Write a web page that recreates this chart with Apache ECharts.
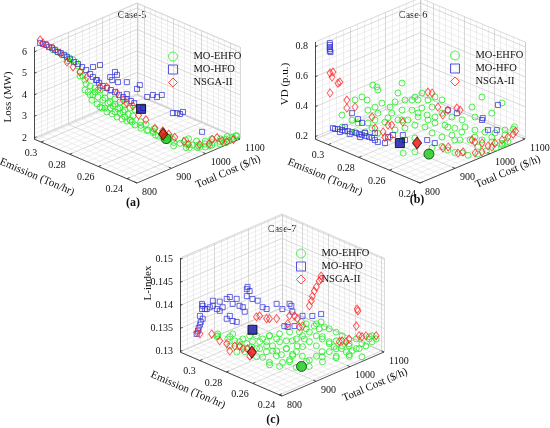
<!DOCTYPE html>
<html>
<head>
<meta charset="utf-8">
<script src="https://cdn.jsdelivr.net/npm/echarts@6/dist/echarts.min.js"></script>
<style>
  html, body { margin: 0; padding: 0; background: #fff; }
  #main { width: 550px; height: 428px; }
</style>
</head>
<body>
<div id="main"></div>
<script>
// tick labels
const costTicks = [800, 900, 1000, 1100];
const emissionTicks = [0.24, 0.26, 0.28, 0.3];
const lossTicks = [2, 3, 4, 5, 6];
const vdTicks = [0.2, 0.4, 0.6, 0.8];
const lIndexTicks = [0.13, 0.135, 0.14, 0.145, 0.15];
const algorithms = ['MO-EHFO', 'MO-HFO', 'NSGA-II'];

// every point: [total cost ($/h), emission (ton/hr), objective]
// Case-5, objective = loss (MW)
const case5Ehfo = [
  [828,0.2984,6.09],[834,0.2970,6.00],[841,0.2952,5.86],[847,0.2938,5.81],[852,0.2924,5.72],[857,0.2914,5.63],[850,0.2931,5.58],[861,0.2903,5.53],
  [864,0.2896,5.35],[867,0.2889,5.07],[871,0.2879,4.88],
  [876,0.2868,4.51],[882,0.2854,4.42],[889,0.2837,4.32],[896,0.2819,4.23],[903,0.2802,4.09],[911,0.2784,3.95],[918,0.2767,3.81],[925,0.2749,3.67],[932,0.2732,3.53],[940,0.2714,3.39],[947,0.2697,3.30],
  [879,0.2861,4.14],[886,0.2844,4.00],[893,0.2826,3.90],[900,0.2809,3.76],[908,0.2791,3.62],[915,0.2774,3.49],[922,0.2756,3.35],[930,0.2739,3.21],[937,0.2721,3.11],[944,0.2704,3.02],
  [884,0.2847,3.76],[892,0.2830,3.58],[899,0.2812,3.39],[906,0.2795,3.21],[914,0.2777,3.11],[921,0.2760,2.97],[928,0.2742,2.88],[935,0.2725,2.79],[943,0.2707,2.74],
  [896,0.2819,3.44],[911,0.2784,3.39],[925,0.2749,3.16],[889,0.2837,4.14],[903,0.2802,3.86],[918,0.2767,3.58],[932,0.2732,3.30],[874,0.2872,4.23],
  [882,0.2854,4.00],[903,0.2802,3.39],[918,0.2767,3.21],[932,0.2732,2.97],[940,0.2714,2.83],[893,0.2826,4.23],[911,0.2784,3.67],[925,0.2749,3.39],[874,0.2872,4.69],[867,0.2889,4.88],
  [940,0.2680,2.70],[945,0.2650,2.60],[950,0.2620,2.55],[955,0.2590,2.50],[948,0.2660,2.85],[955,0.2640,2.75],[962,0.2600,2.60],[970,0.2560,2.45],[935,0.2700,2.90],[958,0.2560,2.40],[965,0.2530,2.35],
  [960,0.2500,2.35],[970,0.2480,2.25],[980,0.2460,2.20],[990,0.2440,2.15],[1000,0.2420,2.10],[1010,0.2410,2.05],[1025,0.2395,2.05],[1040,0.2380,2.05],[1055,0.2365,2.05],[1070,0.2355,2.08],[1085,0.2345,2.10],[1095,0.2340,2.10],
  [965,0.2470,2.15],[985,0.2430,2.05],[1005,0.2400,2.00],[1020,0.2380,1.98],[1035,0.2370,2.00],[1050,0.2350,2.00],[1065,0.2340,2.02],[1080,0.2335,2.05],[1090,0.2337,2.15],[1045,0.2395,2.15],[1000,0.2450,2.30],
  [975,0.2500,2.30],[995,0.2460,2.25],[1015,0.2430,2.15],[1030,0.2405,2.12],[1060,0.2370,2.12],[1075,0.2360,2.15],[990,0.2420,2.05],[1010,0.2395,2.00],[1030,0.2375,1.98],[1060,0.2350,2.00],
  [1075,0.2345,2.00],[950,0.2560,2.50],[960,0.2540,2.45],[945,0.2600,2.65],[952,0.2580,2.60],[975,0.2520,2.35],[940,0.2640,2.80]
];
const case5Hfo = [
  [809,0.3029,6.42],[813,0.3019,6.37],[818,0.3008,6.32],[822,0.2998,6.23],[826,0.2987,6.18],[831,0.2977,6.09],[835,0.2966,6.00],[839,0.2956,5.95],[844,0.2945,5.86],[848,0.2935,5.76],
  [852,0.2924,5.67],[858,0.2910,5.53],[864,0.2896,5.44],[870,0.2882,5.30],[876,0.2868,5.16],[882,0.2854,4.97],[886,0.2844,4.83],[890,0.2833,4.69],[895,0.2823,4.56],[900,0.2809,4.42],
  [906,0.2795,4.32],[912,0.2781,4.23],[918,0.2767,4.14],[924,0.2753,4.00],[930,0.2739,3.90],[935,0.2725,3.81],[941,0.2711,3.72],[946,0.2700,3.62],
  [896,0.2819,5.39],[886,0.2844,5.30],[918,0.2767,5.07],[921,0.2760,4.93],[911,0.2784,4.83],[914,0.2777,4.69],[935,0.2725,4.60],[922,0.2756,4.60],[892,0.2830,4.69],[954,0.2680,4.46],
  [950,0.2690,4.28],[965,0.2655,3.90],[973,0.2634,4.00],[979,0.2620,3.90],[986,0.2603,4.00],[959,0.2669,3.39],[1002,0.2564,3.16],[1008,0.2550,3.16],[1013,0.2540,3.11],[1017,0.2529,3.21],
  [1045,0.2463,2.28],[935,0.2725,4.04]
];
const case5Nsga = [
  [809,0.3029,6.56],[813,0.3019,6.42],[819,0.3005,6.32],[828,0.2984,6.18],[838,0.2959,5.95],[848,0.2935,5.53],[857,0.2914,5.30],[867,0.2889,5.07],[877,0.2865,4.83],[896,0.2819,4.37],
  [906,0.2795,4.37],[921,0.2760,4.09],[930,0.2739,3.76],[935,0.2725,3.62],[944,0.2704,3.49],
  [942,0.2660,3.20],[955,0.2640,2.95],[965,0.2600,2.60],[975,0.2570,2.50],[980,0.2540,2.40],[985,0.2510,2.30],[995,0.2470,2.15],[1000,0.2450,2.05],[1020,0.2420,1.98],[1035,0.2390,2.00],
  [1040,0.2380,2.20],[1050,0.2370,2.25],[1060,0.2360,2.05],[1070,0.2350,1.98],[1085,0.2340,2.00]
];
const case5Best = [[968,0.2530,2.30],[956,0.2676,3.35],[972,0.2560,2.40]];

// Case-6, objective = VD (p.u.)
const case6Ehfo = [
  [863,0.2853,0.583],[869,0.2840,0.570],[905,0.2758,0.596],[848,0.2889,0.503],[838,0.2912,0.483],[855,0.2872,0.483],[876,0.2823,0.463],[895,0.2781,0.470],[909,0.2748,0.483],[919,0.2725,0.483],
  [928,0.2706,0.483],[888,0.2797,0.436],[866,0.2846,0.436],[856,0.2869,0.416],[870,0.2836,0.396],[890,0.2791,0.396],[905,0.2758,0.416],[919,0.2725,0.416],[933,0.2692,0.430],[948,0.2660,0.436],
  [819,0.2954,0.383],[833,0.2921,0.350],[842,0.2902,0.330],[856,0.2869,0.330],[866,0.2846,0.350],[885,0.2804,0.363],[899,0.2771,0.350],[913,0.2738,0.350],[928,0.2706,0.370],[941,0.2676,0.383],
  [952,0.2650,0.370],[962,0.2627,0.396],[976,0.2594,0.370],[991,0.2562,0.350],[1009,0.2519,0.370],
  [819,0.2954,0.303],[838,0.2912,0.270],[852,0.2879,0.270],[862,0.2856,0.296],[870,0.2836,0.263],[895,0.2781,0.283],[909,0.2748,0.296],[923,0.2715,0.316],[938,0.2683,0.303],[952,0.2650,0.330],
  [966,0.2617,0.316],[980,0.2585,0.296],[995,0.2552,0.303],[1009,0.2519,0.283],[1023,0.2486,0.270],[1038,0.2454,0.263],[1052,0.2421,0.250],[1066,0.2400,0.283],[1070,0.2400,0.296],
  [905,0.2758,0.216],[923,0.2715,0.230],[948,0.2660,0.263],[962,0.2627,0.236],[976,0.2594,0.250],[988,0.2568,0.216],[1002,0.2535,0.216],[1019,0.2496,0.216],[1029,0.2454,0.212],[1040,0.2414,0.208],
  [1052,0.2402,0.214],[865,0.2659,0.210],[885,0.2628,0.212],[927,0.2612,0.206],[941,0.2579,0.214],[939,0.2536,0.210],[942,0.2497,0.208],[949,0.2466,0.212],[951,0.2431,0.209],[968,0.2406,0.211],
  [990,0.2400,0.213],[1017,0.2400,0.207],[1042,0.2400,0.212],
  [1005,0.2529,0.436],[1048,0.2431,0.463],[870,0.2836,0.550],[899,0.2771,0.530],[933,0.2692,0.530],[1019,0.2496,0.503],[1033,0.2464,0.396],
  [923,0.2715,0.503],[942,0.2673,0.483],[952,0.2650,0.503],[962,0.2627,0.483],[905,0.2758,0.350],[880,0.2813,0.336],[928,0.2706,0.396],[942,0.2673,0.350],
  [970,0.2607,0.303],[990,0.2562,0.270],[1009,0.2519,0.236],[1033,0.2464,0.236],[1052,0.2421,0.283],[980,0.2585,0.216],[992,0.2461,0.211],[1035,0.2400,0.209]
];
const case6Hfo = [
  [821,0.3038,0.825],[821,0.3038,0.812],[821,0.3038,0.799],[821,0.3038,0.785],[821,0.3038,0.772],[822,0.3036,0.765],
  [806,0.2983,0.296],[809,0.2977,0.290],[813,0.2967,0.290],[819,0.2954,0.283],[823,0.2944,0.276],[828,0.2934,0.276],[833,0.2921,0.270],[839,0.2908,0.263],[843,0.2898,0.256],[848,0.2889,0.250],
  [853,0.2876,0.243],[858,0.2866,0.236],[862,0.2856,0.230],[866,0.2846,0.216],[866,0.2827,0.211],[873,0.2796,0.211],[816,0.2961,0.270],[830,0.2928,0.256],[845,0.2895,0.236],[823,0.2944,0.303],
  [833,0.2921,0.396],[842,0.2902,0.356],[848,0.2889,0.330],[852,0.2879,0.263],[866,0.2846,0.263],[885,0.2804,0.236],[892,0.2787,0.250],[906,0.2755,0.250],[909,0.2748,0.216],[941,0.2676,0.216],
  [944,0.2633,0.211],[970,0.2607,0.416],[983,0.2578,0.396],[1019,0.2496,0.350],[1020,0.2493,0.363],[1028,0.2477,0.283],[1040,0.2447,0.283],[1042,0.2444,0.450]
];
const case6Nsga = [
  [802,0.2993,0.663],[806,0.2983,0.670],[805,0.2987,0.636],[816,0.2961,0.603],[813,0.2967,0.596],[802,0.2993,0.530],[826,0.2938,0.483],[826,0.2938,0.430],[838,0.2912,0.436],[862,0.2856,0.370],
  [866,0.2846,0.296],[885,0.2804,0.316],[890,0.2791,0.316],[906,0.2755,0.336],[878,0.2820,0.270],[880,0.2813,0.236],[888,0.2797,0.236],[942,0.2673,0.536],[948,0.2660,0.530],[956,0.2640,0.436],
  [963,0.2624,0.383],[970,0.2607,0.416],[983,0.2578,0.430],[988,0.2568,0.416],[1005,0.2529,0.216],[1005,0.2510,0.211],[1012,0.2479,0.211],[1010,0.2436,0.211],[1030,0.2436,0.211],[1048,0.2431,0.216],
  [1056,0.2411,0.236],[1066,0.2400,0.250],[1073,0.2400,0.263],[939,0.2568,0.211],[950,0.2559,0.211],[943,0.2479,0.211],[954,0.2471,0.211],[968,0.2424,0.211],[981,0.2409,0.211],[1012,0.2415,0.211]
];
const case6Best = [[898,0.2566,0.211],[894,0.2747,0.211],[919,0.2692,0.211]];

// Case-7, objective = L-index
const case7Ehfo = [
  [848,0.2988,0.1343],[847,0.2992,0.1337],[866,0.2943,0.1337],[873,0.2924,0.1328],[880,0.2906,0.1326],[891,0.2879,0.1322],[899,0.2857,0.1326],[910,0.2831,0.1326],[920,0.2804,0.1326],[929,0.2782,0.1317],
  [939,0.2755,0.1326],[949,0.2729,0.1328],[964,0.2692,0.1332],[968,0.2680,0.1347],[978,0.2654,0.1354],[993,0.2616,0.1365],[1000,0.2598,0.1369],[1012,0.2568,0.1354],[1022,0.2541,0.1347],[1031,0.2519,0.1339],
  [1052,0.2466,0.1332],[1071,0.2417,0.1337],[1081,0.2391,0.1332],[983,0.2643,0.1326],[993,0.2616,0.1317],[1002,0.2594,0.1332],[1012,0.2568,0.1326],[1022,0.2541,0.1328],[1031,0.2519,0.1317],[1041,0.2492,0.1322],
  [973,0.2669,0.1315],[949,0.2729,0.1311],[891,0.2879,0.1311],[866,0.2943,0.1317],[924,0.2793,0.1339],[939,0.2755,0.1343],[954,0.2718,0.1347],[993,0.2616,0.1339],[958,0.2707,0.1328],[973,0.2669,0.1339],
  [1075,0.2406,0.1326],[1066,0.2429,0.1317],[1056,0.2455,0.1311],
  [874,0.2911,0.1305],[885,0.2880,0.1306],[889,0.2800,0.1304],[894,0.2768,0.1305],[890,0.2706,0.1303],[918,0.2725,0.1306],[906,0.2648,0.1305],[920,0.2631,0.1304],[942,0.2664,0.1306],[956,0.2627,0.1305],
  [956,0.2574,0.1303],[977,0.2574,0.1305],[999,0.2588,0.1306],[1013,0.2570,0.1304],[1022,0.2541,0.1311],[1035,0.2497,0.1305],[1047,0.2484,0.1306],[965,0.2694,0.1304],[936,0.2769,0.1305],[917,0.2798,0.1306],
  [905,0.2842,0.1311],[880,0.2679,0.1304],[888,0.2624,0.1305],[912,0.2560,0.1303],[931,0.2511,0.1305],[965,0.2498,0.1306],[1002,0.2490,0.1304],[1025,0.2450,0.1305],[1040,0.2392,0.1306],
  [848,0.2988,0.1339],[863,0.2951,0.1332],[870,0.2932,0.1343],[885,0.2894,0.1332],[895,0.2868,0.1339],[905,0.2842,0.1339],[914,0.2819,0.1332],[924,0.2793,0.1339],[935,0.2767,0.1332],[920,0.2804,0.1317],
  [910,0.2831,0.1311],[930,0.2784,0.1305],[932,0.2723,0.1304],[949,0.2729,0.1311],[949,0.2682,0.1305],[965,0.2688,0.1317],[975,0.2661,0.1332],[983,0.2643,0.1347],[990,0.2624,0.1360],[997,0.2605,0.1354],
  [1002,0.2594,0.1337],[1012,0.2568,0.1322],[1019,0.2549,0.1315],[1030,0.2522,0.1311],[1041,0.2492,0.1317],[1052,0.2466,0.1311],[1060,0.2444,0.1322],[1071,0.2417,0.1332],[1075,0.2406,0.1339],[971,0.2673,0.1369],
  [978,0.2654,0.1365],[1005,0.2586,0.1358],[927,0.2649,0.1304],[945,0.2567,0.1305],[982,0.2543,0.1306],[1006,0.2499,0.1305],[1032,0.2468,0.1304],[880,0.2906,0.1315],[898,0.2861,0.1315]
];
const case7Hfo = [
  [817,0.3067,0.1343],[819,0.3063,0.1350],[820,0.3060,0.1356],[822,0.3056,0.1363],[823,0.3052,0.1369],[826,0.3045,0.1376],[822,0.3056,0.1382],[825,0.3048,0.1397],[826,0.3045,0.1404],[829,0.3037,0.1397],
  [825,0.3048,0.1408],[832,0.3030,0.1397],[836,0.3018,0.1401],[841,0.3007,0.1404],[847,0.2992,0.1397],[851,0.2981,0.1393],[855,0.2969,0.1401],[861,0.2954,0.1419],[866,0.2943,0.1423],[870,0.2932,0.1408],
  [876,0.2917,0.1419],[880,0.2906,0.1404],[885,0.2894,0.1401],[888,0.2887,0.1391],[866,0.2943,0.1382],[861,0.2954,0.1376],[870,0.2932,0.1371],[876,0.2917,0.1369],[891,0.2879,0.1440],[892,0.2876,0.1445],
  [891,0.2879,0.1425],[895,0.2868,0.1436],[899,0.2857,0.1419],[907,0.2838,0.1415],[914,0.2819,0.1401],[920,0.2804,0.1397],[935,0.2767,0.1408],[943,0.2744,0.1397],[954,0.2718,0.1408],[956,0.2710,0.1404],
  [958,0.2707,0.1391],[973,0.2669,0.1382],[987,0.2631,0.1382],[1000,0.2598,0.1386],[946,0.2737,0.1360],[951,0.2725,0.1358],[961,0.2699,0.1360],[841,0.3007,0.1415],[851,0.2981,0.1413]
];
const case7Nsga = [
  [817,0.3067,0.1347],[822,0.3056,0.1343],[839,0.3011,0.1343],[851,0.2981,0.1328],[861,0.2954,0.1322],[867,0.2946,0.1305],[873,0.2924,0.1317],[880,0.2906,0.1317],[885,0.2894,0.1311],[892,0.2876,0.1311],
  [879,0.2826,0.1305],[905,0.2842,0.1380],[910,0.2831,0.1382],[920,0.2804,0.1376],[924,0.2793,0.1376],[935,0.2767,0.1376],[951,0.2725,0.1365],[954,0.2718,0.1382],[961,0.2699,0.1382],[965,0.2688,0.1376],
  [968,0.2680,0.1358],[973,0.2669,0.1360],[983,0.2643,0.1404],[986,0.2635,0.1415],[987,0.2631,0.1425],[990,0.2624,0.1436],[993,0.2616,0.1445],[997,0.2605,0.1458],[1000,0.2598,0.1462],[1000,0.2598,0.1469],
  [1053,0.2462,0.1397],[1054,0.2459,0.1393],[1052,0.2466,0.1360],[1056,0.2455,0.1339],[1060,0.2444,0.1337],[1066,0.2429,0.1339],[1081,0.2391,0.1339],[1027,0.2530,0.1326],[1031,0.2519,0.1328],[1037,0.2504,0.1326],
  [1041,0.2492,0.1332]
];
const case7Best = [[920,0.2541,0.1305],[899,0.2857,0.1352],[896,0.2854,0.1305]];

// ---- layout of the three boxes (screen geometry, not data) ----
const FONT = 'Liberation Serif';
const colors = { ehfo: '#22ee22', hfo: '#2e2ed8', nsga: '#ff2020' };

const panels = [
  {
    title: 'Case-5', tag: '(a)', zName: 'Loss (MW)', zTicks: lossTicks, zMinor: 0.2,
    data: [case5Ehfo, case5Hfo, case5Nsga], best: case5Best,
    F: [137, 183], L: [34, 139], R: [240, 139], H: 92,
    cost: [800, 1100], em: [0.233, 0.305], z: [1.95, 6.23],
    titlePos: [132, 15], tagPos: [133, 203], zNamePos: [8, 97], emNamePos: [37, 177], costNamePos: [228, 172],
    legend: { left: 168, top: 51 }
  },
  {
    title: 'Case-6', tag: '(b)', zName: 'VD (p.u.)', zTicks: vdTicks, zMinor: 0.04,
    data: [case6Ehfo, case6Hfo, case6Nsga], best: case6Best,
    F: [420, 183], L: [315, 139], R: [525, 139], H: 97,
    cost: [800, 1100], em: [0.24, 0.3087], z: [0.185, 0.832],
    titlePos: [413, 15], tagPos: [417, 200], zNamePos: [285, 84], emNamePos: [325, 177], costNamePos: [508, 172],
    legend: { left: 450, top: 50 }
  },
  {
    title: 'Case-7', tag: '(c)', zName: 'L-index', zTicks: lIndexTicks, zMinor: 0.001,
    data: [case7Ehfo, case7Hfo, case7Nsga], best: case7Best,
    F: [282, 396], L: [180, 352], R: [384, 352], H: 94,
    cost: [800, 1100], em: [0.238, 0.315], z: [0.1299, 0.1503],
    titlePos: [282, 229], tagPos: [273, 420], zNamePos: [148, 283], emNamePos: [188, 390], costNamePos: [375, 385],
    legend: { left: 296, top: 248 }
  }
];

function proj(p, c, e, z) {
  const u = (c - p.cost[0]) / (p.cost[1] - p.cost[0]);
  const v = (e - p.em[0]) / (p.em[1] - p.em[0]);
  const w = (z - p.z[0]) / (p.z[1] - p.z[0]);
  return [
    p.F[0] + u * (p.R[0] - p.F[0]) + v * (p.L[0] - p.F[0]),
    p.F[1] + u * (p.R[1] - p.F[1]) + v * (p.L[1] - p.F[1]) - w * p.H
  ];
}

// grid values inside [lo, hi] stepping from a major tick
function gridVals(lo, hi, ref, step) {
  const out = [];
  for (let k = Math.ceil((lo - ref) / step - 1e-6); ref + k * step <= hi + 1e-9; k++) out.push(+(ref + k * step).toFixed(6));
  return out;
}
function isMajor(v, ticks) { return ticks.some(t => Math.abs(t - v) < 1e-7); }

const series = [];
const graphics = [];
const legends = [];

function txt(x, y, text, o) {
  o = o || {};
  return {
    type: 'text', x: x, y: y, rotation: o.rot || 0, silent: true,
    style: {
      text: text, fill: '#111', fontFamily: FONT, fontSize: o.size || 10,
      fontWeight: o.bold ? 'bold' : 'normal',
      textAlign: o.align || 'center', textVerticalAlign: 'middle',
      align: o.align || 'center', verticalAlign: 'middle'
    }
  };
}

panels.forEach((p, pi) => {
  const [c0, c1] = p.cost, [e0, e1] = p.em, [z0, z1] = p.z;
  const minor = [], major = [], axes = [];
  const seg = (list, a, b) => list.push({ coords: [proj(p, a[0], a[1], a[2]), proj(p, b[0], b[1], b[2])] });

  const cVals = gridVals(c0, c1, 800, 20);
  const eVals = gridVals(e0, e1, 0.24, 0.004);
  const zVals = gridVals(z0, z1, p.zTicks[0], p.zMinor);

  cVals.forEach(c => {
    const L = isMajor(c, costTicks) ? major : minor;
    seg(L, [c, e0, z0], [c, e1, z0]);      // floor
    seg(L, [c, e1, z0], [c, e1, z1]);      // back-left wall
  });
  eVals.forEach(e => {
    const L = isMajor(e, emissionTicks) ? major : minor;
    seg(L, [c0, e, z0], [c1, e, z0]);      // floor
    seg(L, [c1, e, z0], [c1, e, z1]);      // back-right wall
  });
  zVals.forEach(z => {
    const L = isMajor(z, p.zTicks) ? major : minor;
    seg(L, [c0, e1, z], [c1, e1, z]);
    seg(L, [c1, e0, z], [c1, e1, z]);
  });
  // box outline of the back walls
  seg(major, [c0, e1, z1], [c1, e1, z1]);
  seg(major, [c1, e0, z1], [c1, e1, z1]);
  seg(major, [c1, e1, z0], [c1, e1, z1]);
  seg(major, [c1, e0, z0], [c1, e0, z1]);
  seg(major, [c1, e0, z0], [c1, e1, z0]);
  seg(major, [c0, e1, z0], [c1, e1, z0]);

  // dark axis lines + ticks
  seg(axes, [c0, e1, z0], [c0, e1, z1]);
  seg(axes, [c0, e0, z0], [c0, e1, z0]);
  seg(axes, [c0, e0, z0], [c1, e0, z0]);
  costTicks.forEach(c => seg(axes, [c, e0, z0], [c, e0 + (e1 - e0) * 0.025, z0]));
  emissionTicks.forEach(e => seg(axes, [c0, e, z0], [c0 + (c1 - c0) * 0.025, e, z0]));
  p.zTicks.forEach(z => seg(axes, [c0, e1, z], [c0 + (c1 - c0) * 0.025, e1, z]));

  series.push({ type: 'lines', coordinateSystem: 'cartesian2d', silent: true, z: 1, data: minor, lineStyle: { color: '#e2e2e2', width: 0.6, opacity: 1 } });
  series.push({ type: 'lines', coordinateSystem: 'cartesian2d', silent: true, z: 1, data: major, lineStyle: { color: '#c9c9c9', width: 0.7, opacity: 1 } });
  series.push({ type: 'lines', coordinateSystem: 'cartesian2d', silent: true, z: 2, data: axes, lineStyle: { color: '#262626', width: 0.8, opacity: 1 } });

  // points
  const styles = [
    { symbol: 'circle', symbolSize: 6, itemStyle: { color: 'rgba(255,255,255,0)', borderColor: colors.ehfo, borderWidth: 1 } },
    { symbol: 'rect', symbolSize: 5, itemStyle: { color: 'rgba(255,255,255,0)', borderColor: colors.hfo, borderWidth: 0.9 } },
    { symbol: 'diamond', symbolSize: [6, 8], itemStyle: { color: 'rgba(255,255,255,0)', borderColor: colors.nsga, borderWidth: 0.9 } }
  ];
  p.data.forEach((arr, si) => {
    series.push(Object.assign({
      type: 'scatter', name: algorithms[si], z: 3 + si, silent: true,
      data: arr.map(d => proj(p, d[0], d[1], d[2]))
    }, styles[si]));
  });
  const bestStyles = [
    { symbol: 'circle', symbolSize: 10, itemStyle: { color: '#18c818', borderColor: '#0b3b0b', borderWidth: 1 } },
    { symbol: 'rect', symbolSize: 9, itemStyle: { color: '#1010a8', borderColor: '#000', borderWidth: 1 } },
    { symbol: 'diamond', symbolSize: [9, 12], itemStyle: { color: '#ee1010', borderColor: '#3a0000', borderWidth: 1 } }
  ];
  p.best.forEach((d, si) => {
    series.push(Object.assign({
      type: 'scatter', name: algorithms[si] + ' best ' + pi, z: 6, silent: true,
      data: [proj(p, d[0], d[1], d[2])]
    }, bestStyles[si]));
  });

  // tick labels
  p.zTicks.forEach(z => { const q = proj(p, c0, e1, z); graphics.push(txt(q[0] - 7, q[1], String(z), { align: 'right' })); });
  emissionTicks.forEach(e => { const q = proj(p, c0, e, z0); graphics.push(txt(q[0] - 4, q[1] + 11, String(e), { align: 'right' })); });
  costTicks.forEach(c => { const q = proj(p, c, e0, z0); graphics.push(txt(q[0] + 5, q[1] + 9, String(c), { align: 'left' })); });

  // titles
  const ang = Math.atan2(p.L[1] - p.F[1], p.F[0] - p.L[0]);
  graphics.push(txt(p.titlePos[0], p.titlePos[1], p.title, { size: 10.5 }));
  graphics.push(txt(p.tagPos[0], p.tagPos[1], p.tag, { size: 12, bold: true }));
  graphics.push(txt(p.zNamePos[0], p.zNamePos[1], p.zName, { size: 11, rot: Math.PI / 2 }));
  graphics.push(txt(p.emNamePos[0], p.emNamePos[1], 'Emission (Ton/hr)', { size: 11, rot: ang }));
  graphics.push(txt(p.costNamePos[0], p.costNamePos[1], 'Total Cost ($/h)', { size: 11, rot: -ang }));

  legends.push({
    left: p.legend.left, top: p.legend.top, orient: 'vertical', padding: 0,
    itemWidth: 9, itemHeight: 9, itemGap: 2, selectedMode: false,
    textStyle: { fontFamily: FONT, fontSize: 10.5, color: '#111', padding: [0, 0, 0, 11] },
    data: [
      { name: algorithms[0], icon: 'circle', itemStyle: { color: 'rgba(255,255,255,0)', borderColor: colors.ehfo, borderWidth: 1 } },
      { name: algorithms[1], icon: 'rect', itemStyle: { color: 'rgba(255,255,255,0)', borderColor: colors.hfo, borderWidth: 1 } },
      { name: algorithms[2], icon: 'diamond', itemStyle: { color: 'rgba(255,255,255,0)', borderColor: colors.nsga, borderWidth: 1 } }
    ]
  });
});

const chart = echarts.init(document.getElementById('main'));
chart.setOption({
  animation: false,
  backgroundColor: '#fff',
  grid: { left: 0, right: 0, top: 0, bottom: 0 },
  xAxis: { type: 'value', min: 0, max: 550, show: false },
  yAxis: { type: 'value', min: 0, max: 428, inverse: true, show: false },
  legend: legends,
  graphic: { elements: graphics },
  series: series
});
window.addEventListener('resize', () => chart.resize());
</script>
</body>
</html>
